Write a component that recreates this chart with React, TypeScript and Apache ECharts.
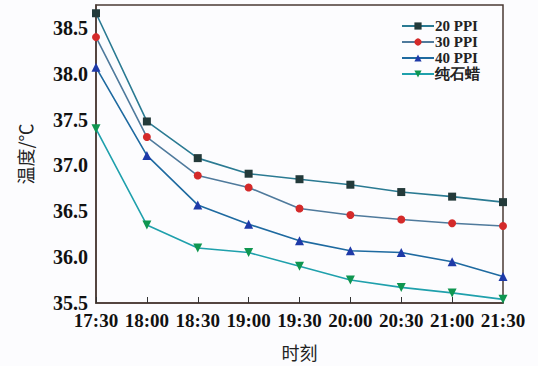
import React, { useEffect, useRef } from "react";
import * as echarts from "echarts";

const categories = ["17:30", "18:00", "18:30", "19:00", "19:30", "20:00", "20:30", "21:00", "21:30"];
const ppi20 = [38.66, 37.48, 37.08, 36.91, 36.85, 36.79, 36.71, 36.66, 36.6];
const ppi30 = [38.4, 37.31, 36.89, 36.76, 36.53, 36.46, 36.41, 36.37, 36.34];
const ppi40 = [38.07, 37.11, 36.57, 36.36, 36.18, 36.07, 36.05, 35.95, 35.79];
const paraffin = [37.4, 36.35, 36.1, 36.05, 35.9, 35.75, 35.67, 35.61, 35.54];
const seriesNames = ["20 PPI", "30 PPI", "40 PPI", "纯石蜡"];

const FONT = "'Liberation Serif', 'Times New Roman', serif";

export default function App() {
  const ref = useRef<HTMLDivElement>(null);
  useEffect(() => {
    if (!ref.current) return;
    const chart = echarts.init(ref.current, undefined, { renderer: "svg" });
    const mk = (
      name: string,
      data: number[],
      lineColor: string,
      markColor: string,
      symbol: string,
      size: number,
      rotate = 0
    ) => ({
      name,
      type: "line",
      data,
      symbol,
      symbolSize: size,
      symbolRotate: rotate,
      lineStyle: { color: lineColor, width: 1.6 },
      itemStyle: { color: markColor, borderColor: markColor, borderWidth: 0 },
      z: 3,
    });
    chart.setOption({
      animation: false,
      backgroundColor: "#fcfcfe",
      grid: {
        left: 96,
        right: 35,
        top: 5,
        bottom: 58,
        show: true,
        borderColor: "#4a3a34",
        borderWidth: 1.5,
        backgroundColor: "transparent",
      },
      legend: {
        orient: "vertical",
        left: 396,
        top: 13,
        itemGap: 0,
        itemWidth: 32,
        itemHeight: 9,
        data: seriesNames,
        textStyle: { fontFamily: FONT, fontSize: 15, lineHeight: 16, color: "#222", fontWeight: "bold", padding: [0, 0, 0, -4] },
      },
      xAxis: {
        type: "category",
        data: categories,
        boundaryGap: false,
        name: "时刻",
        nameLocation: "middle",
        nameGap: 40,
        nameTextStyle: { fontFamily: "Noto Sans CJK SC", fontSize: 18, color: "#222" },
        axisLine: { lineStyle: { color: "#4a3a34", width: 1.5 } },
        axisTick: { inside: true, length: 6, interval: 0, lineStyle: { color: "#333" } },
        axisLabel: { fontFamily: FONT, fontSize: 19, color: "#111", margin: 8, interval: 0, fontWeight: "bold" },
        splitLine: { show: false },
      },
      yAxis: {
        type: "value",
        min: 35.5,
        max: 38.75,
        interval: 0.5,
        name: "温度/℃",
        nameLocation: "middle",
        nameGap: 62,
        nameTextStyle: { fontFamily: "Noto Sans CJK SC", fontSize: 18, color: "#222" },
        axisLine: { show: true, lineStyle: { color: "#4a3a34", width: 1.5 } },
        axisTick: { show: false },
        axisLabel: {
          fontFamily: FONT,
          fontSize: 20,
          color: "#111",
          margin: 8,
          fontWeight: "bold",
          showMaxLabel: false,
          formatter: (v: number) => v.toFixed(1),
        },
        splitLine: { show: false },
      },
      series: [
        mk(seriesNames[0], ppi20, "#2a7a92", "#233a3a", "rect", 8),
        mk(seriesNames[1], ppi30, "#4f7a9c", "#d42a2a", "circle", 8),
        mk(seriesNames[2], ppi40, "#1e6aa0", "#1e3aa8", "triangle", 9),
        mk(seriesNames[3], paraffin, "#1fa0ac", "#0f9650", "triangle", 9, 180),
      ],
    });
    return () => chart.dispose();
  }, []);
  return <div ref={ref} style={{ width: 538, height: 366, position: "absolute", left: 0, top: 0 }} />;
}
